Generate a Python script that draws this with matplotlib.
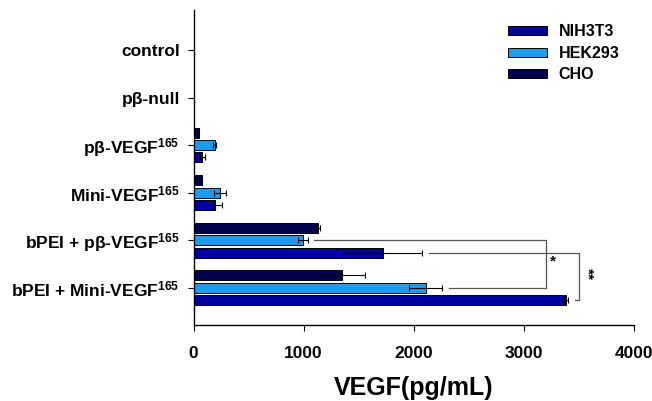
import matplotlib
matplotlib.use("Agg")
import matplotlib.pyplot as plt
import numpy as np

plt.rcParams['font.family'] = ['Liberation Sans', 'DejaVu Sans']
plt.rcParams['font.weight'] = 'bold'
plt.rcParams['mathtext.fontset'] = 'custom'
plt.rcParams['mathtext.rm'] = 'Liberation Sans:bold'
plt.rcParams['mathtext.it'] = 'Liberation Sans:bold'
plt.rcParams['mathtext.bf'] = 'Liberation Sans:bold'
plt.rcParams['mathtext.default'] = 'rm'

categories = ["control", "pβ-null", "pβ-VEGF$^{165}$", "Mini-VEGF$^{165}$",
              "bPEI + pβ-VEGF$^{165}$", "bPEI + Mini-VEGF$^{165}$"]
series = ["NIH3T3", "HEK293", "CHO"]
nih = [0, 0, 80, 190, 1718, 3385]
nih_err = [0, 0, 25, 70, 360, 20]
hek = [0, 0, 190, 240, 990, 2110]
hek_err = [0, 0, 10, 55, 45, 150]
cho = [0, 0, 45, 75, 1130, 1345]
cho_err = [0, 0, 5, 5, 20, 210]
xticks = [0, 1000, 2000, 3000, 4000]

colors = {"NIH3T3": "#0000a0", "HEK293": "#1e9af0", "CHO": "#00004e"}

fig = plt.figure(figsize=(6.52, 4.01), dpi=100)
ax = fig.add_axes([0.297, 0.19, 0.675, 0.785])

y = np.arange(len(categories))
off = 0.26
h = 0.21
data = [("NIH3T3", nih, nih_err, off), ("HEK293", hek, hek_err, 0.0), ("CHO", cho, cho_err, -off)]
handles = {}
for name, vals, errs, o in data:
    b = ax.barh(y + o, vals, height=h, color=colors[name], edgecolor='black',
                linewidth=0.7, label=name, zorder=2)
    handles[name] = b
    idx = [i for i, v in enumerate(vals) if v > 0]
    ax.errorbar([vals[i] for i in idx], [y[i] + o for i in idx], xerr=[errs[i] for i in idx],
                fmt='none', ecolor='black', elinewidth=0.8, capsize=2, capthick=0.8, zorder=3)

# significance brackets
gc = '#555555'
i1, i2 = 4, 5
x_star = 3203
ax.plot([hek[i1] + hek_err[i1] + 60, x_star, x_star, hek[i2] + hek_err[i2] + 60],
        [y[i1], y[i1], y[i2], y[i2]], color=gc, lw=0.9, zorder=1)
ax.text(x_star + 60, (y[i1] + y[i2]) / 2 - 0.05, "*", ha='center', va='center', fontsize=11)
x_ss = 3503
ax.plot([nih[i1] + nih_err[i1] + 60, x_ss, x_ss, nih[i2] + nih_err[i2] + 60],
        [y[i1] + off, y[i1] + off, y[i2] + off, y[i2] + off], color=gc, lw=0.9, zorder=1)
ax.text(x_ss + 80, (y[i1] + y[i2]) / 2 + off - 0.05, "**", ha='center', va='center',
        fontsize=11, rotation=270)

ax.set_xlim(0, 4000)
ax.set_ylim(5.78, -0.84)
ax.set_yticks(y)
ax.set_yticklabels(categories, fontsize=12.5, fontweight='bold')
ax.set_xticks(xticks)
ax.set_xticklabels([str(t) for t in xticks], fontsize=12.5, fontweight='bold')
ax.tick_params(axis='both', direction='out', length=4, width=0.8)
ax.tick_params(axis='x', pad=11)
ax.tick_params(axis='y', pad=6)
for s in ['top', 'right']:
    ax.spines[s].set_visible(False)
for s in ['left', 'bottom']:
    ax.spines[s].set_linewidth(1.0)

ax.set_xlabel("VEGF(pg/mL)", fontsize=18, fontweight='bold', labelpad=11)

leg = ax.legend([handles[s] for s in series], series, loc='upper right',
                bbox_to_anchor=(1.0, 1.0), frameon=False, fontsize=11.5,
                handlelength=2.5, handleheight=0.5, labelspacing=0.4, handletextpad=0.7)

fig.savefig("out.png", dpi=100)
